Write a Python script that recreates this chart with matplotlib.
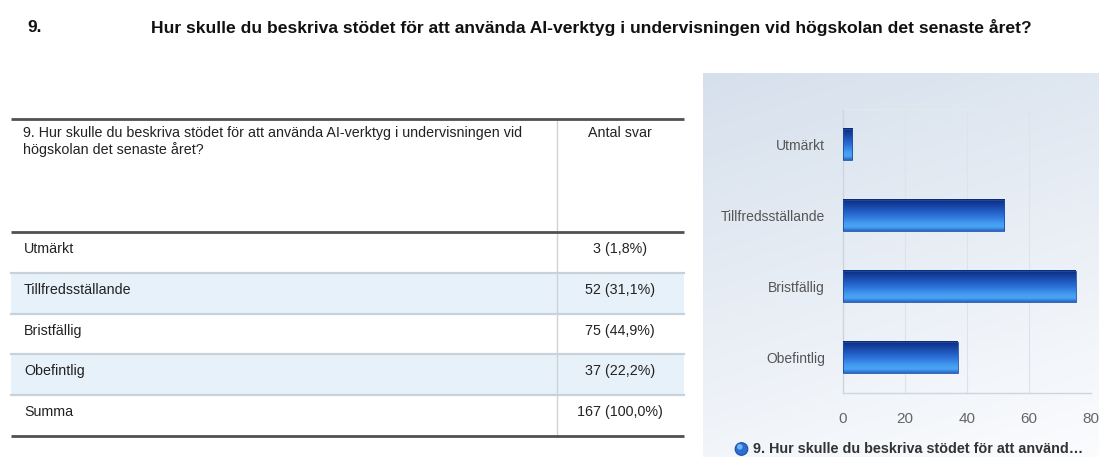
import numpy as np
import matplotlib
matplotlib.use("Agg")
import matplotlib.pyplot as plt
from matplotlib.colors import LinearSegmentedColormap, to_rgb
from matplotlib.patches import Rectangle, Circle

plt.rcParams['font.family'] = ['Liberation Sans', 'DejaVu Sans']

# ---------------- data ----------------
question_no = "9."
question = "Hur skulle du beskriva stödet för att använda AI-verktyg i undervisningen vid högskolan det senaste året?"
header_left = ["9. Hur skulle du beskriva stödet för att använda AI-verktyg i undervisningen vid",
               "högskolan det senaste året?"]
header_right = "Antal svar"
categories = ["Utmärkt", "Tillfredsställande", "Bristfällig", "Obefintlig"]
counts = [3, 52, 75, 37]
percents = ["1,8", "31,1", "44,9", "22,2"]
total_label = "Summa"
total_count = 167
total_percent = "100,0"
xticks = [0, 20, 40, 60, 80]
legend_label = "9. Hur skulle du beskriva stödet för att använd\u2026"

W, H = 1099, 457
fig = plt.figure(figsize=(W / 100, H / 100), dpi=100)
fig.patch.set_facecolor("white")

# pixel canvas
ax0 = fig.add_axes([0, 0, 1, 1])
ax0.set_xlim(0, W)
ax0.set_ylim(H, 0)
ax0.axis("off")

# ---------------- title ----------------
ax0.text(27, 28, question_no, fontsize=12.4, fontweight="bold", color="#111", va="center", ha="left")
ax0.text(591, 28, question, fontsize=12.6, fontweight="bold", color="#111", va="center", ha="center")

# ---------------- table ----------------
tl, tr, tdiv = 11, 684, 557
top_y, head_b = 119, 232
row_h = 40.8
rows = [(c, f"{n} ({p}%)") for c, n, p in zip(categories, counts, percents)]
rows.append((total_label, f"{total_count} ({total_percent}%)"))
row_tops = [head_b + i * row_h for i in range(len(rows))]
bottom_y = head_b + len(rows) * row_h

for i, yt in enumerate(row_tops):
    if i in (1, 3):
        ax0.add_patch(Rectangle((tl, yt), tr - tl, row_h, facecolor="#e7f1fa", edgecolor="none", zorder=1))
    if i > 0:
        ax0.plot([tl, tr], [yt, yt], color="#c9d2da", lw=1.6, zorder=2)

ax0.plot([tdiv, tdiv], [top_y, bottom_y], color="#cfd3d7", lw=1.0, zorder=2)
for yy in (top_y, head_b, bottom_y):
    ax0.plot([tl, tr], [yy, yy], color="#505050", lw=2.0, zorder=3, solid_capstyle="butt")

tfs = 10.3
ax0.text(23, 133, header_left[0], fontsize=tfs, color="#222", va="center", ha="left")
ax0.text(23, 150, header_left[1], fontsize=tfs, color="#222", va="center", ha="left")
ax0.text(620, 133, header_right, fontsize=tfs, color="#222", va="center", ha="center")
for (lab, val), yt in zip(rows, row_tops):
    ax0.text(24, yt + 17, lab, fontsize=tfs, color="#222", va="center", ha="left")
    ax0.text(620, yt + 17, val, fontsize=tfs, color="#222", va="center", ha="center")

# ---------------- chart panel background ----------------
px0, px1, py0, py1 = 703, W, 73, H
ny, nx = 100, 100
yy_, xx_ = np.mgrid[0:1:ny * 1j, 0:1:nx * 1j]
t = np.clip(0.75 * yy_ + 0.25 * xx_, 0, 1)
c_top = np.array(to_rgb("#d6e0ec"))
c_bot = np.array(to_rgb("#fbfcfe"))
bg = c_top[None, None, :] * (1 - t[..., None]) + c_bot[None, None, :] * t[..., None]
ax0.imshow(bg, extent=(px0, px1, py1, py0), origin="upper", aspect="auto", zorder=0)
ax0.set_xlim(0, W)
ax0.set_ylim(H, 0)

# ---------------- bar chart ----------------
pl, pr, pt, pb = 843, 1091, 109, 393
ax = fig.add_axes([pl / W, 1 - pb / H, (pr - pl) / W, (pb - pt) / H])
ax.patch.set_alpha(0)
ypos = np.arange(len(categories))
bh = 0.45
bar_cmap = LinearSegmentedColormap.from_list(
    "bar", [(0.0, "#0c2b78"), (0.2, "#1744a4"), (0.5, "#2a6dd6"),
            (0.75, "#439aef"), (0.88, "#4aa5f6"), (1.0, "#2867c6")])
grad = bar_cmap(np.linspace(0, 1, 64))[:, None, :]
bars = ax.barh(ypos, counts, height=bh, color="none", edgecolor="#1d4fa8", linewidth=0.6, zorder=4)
for b in bars:
    x0, y0 = b.get_x(), b.get_y()
    w, h = b.get_width(), b.get_height()
    ax.imshow(grad, extent=(x0, x0 + w, y0 + h, y0), origin="upper", aspect="auto", zorder=3)

ax.set_xlim(0, 80)
ax.set_ylim(len(categories) - 0.5, -0.5)
ax.set_xticks(xticks)
ax.set_xticklabels([str(v) for v in xticks])
ax.set_yticks(ypos)
ax.set_yticklabels(categories)
ax.tick_params(axis="x", length=0, pad=14, labelsize=11, labelcolor="#666")
ax.tick_params(axis="y", length=0, pad=13, labelsize=10, labelcolor="#555")
ax.xaxis.grid(True, color="#dde3ea", lw=0.8, zorder=0)
ax.set_axisbelow(True)
for s in ("left", "bottom"):
    ax.spines[s].set_color("#cdd6df")
    ax.spines[s].set_linewidth(1.0)
ax.spines["top"].set_color("#e3e8ee")
ax.spines["top"].set_linewidth(0.8)
ax.spines["right"].set_visible(False)

# legend
ax0.add_patch(Circle((741.5, 449), 6.3, facecolor="#2d6fd0", edgecolor="#1a4da6", lw=0.8, zorder=5))
ax0.add_patch(Circle((739.8, 446.8), 2.8, facecolor="#6fb4f6", edgecolor="none", zorder=6))
ax0.text(753, 449, legend_label, fontsize=10.4, fontweight="bold", color="#333", va="center", ha="left")

fig.savefig("out.png", dpi=100, facecolor="white")
